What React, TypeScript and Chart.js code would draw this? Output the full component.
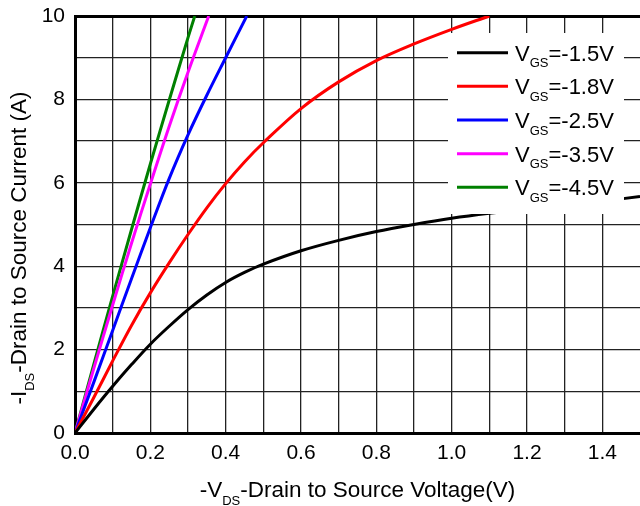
import React, { useEffect, useRef } from 'react';
import { Chart, registerables } from 'chart.js';

Chart.register(...registerables);

// ---- data ----
const vgsLabels = ['-1.5V', '-1.8V', '-2.5V', '-3.5V', '-4.5V'];
const seriesColors = ['#000000', '#ff0000', '#0000ff', '#ff00ff', '#008000'];

const vdsA = [0, 0.05, 0.1, 0.15, 0.2, 0.25, 0.3, 0.35, 0.4, 0.45, 0.5, 0.6, 0.7, 0.8, 0.9, 1.0, 1.1, 1.2, 1.3, 1.4, 1.5];
const idsA = [0, 0.57, 1.12, 1.64, 2.13, 2.56, 2.96, 3.31, 3.61, 3.85, 4.05, 4.37, 4.62, 4.83, 5.0, 5.15, 5.27, 5.37, 5.46, 5.56, 5.67];

const vdsB = [0, 0.05, 0.1, 0.15, 0.2, 0.25, 0.3, 0.35, 0.4, 0.45, 0.5, 0.6, 0.7, 0.8, 0.9, 1.0, 1.1];
const idsB = [0, 0.85, 1.73, 2.58, 3.36, 4.08, 4.76, 5.4, 5.98, 6.5, 6.96, 7.78, 8.42, 8.93, 9.33, 9.68, 10.0];

const vdsC = [0, 0.05, 0.1, 0.15, 0.2, 0.25, 0.3, 0.35, 0.4, 0.456];
const idsC = [0, 1.22, 2.46, 3.7, 4.92, 6.1, 7.15, 8.1, 9.0, 10.0];

const vdsD = [0, 0.05, 0.1, 0.15, 0.2, 0.25, 0.3, 0.355];
const idsD = [0, 1.55, 3.07, 4.55, 5.97, 7.35, 8.65, 10.0];

const vdsE = [0, 0.05, 0.1, 0.15, 0.2, 0.25, 0.3, 0.318];
const idsE = [0, 1.65, 3.28, 4.88, 6.45, 7.98, 9.48, 10.0];

const xTickLabels = ['0.0', '0.2', '0.4', '0.6', '0.8', '1.0', '1.2', '1.4'];
const yTickLabels = ['0', '2', '4', '6', '8', '10'];

const seriesX = [vdsA, vdsB, vdsC, vdsD, vdsE];
const seriesY = [idsA, idsB, idsC, idsD, idsE];

const FONT = '"Liberation Sans", Arial, Helvetica, sans-serif';

type Part = { t: string; sub?: boolean };

function drawParts(
  ctx: CanvasRenderingContext2D,
  x: number,
  y: number,
  parts: Part[],
  size: number,
  subSize: number,
  subDrop: number,
  align: 'left' | 'center'
) {
  ctx.textAlign = 'left';
  ctx.textBaseline = 'alphabetic';
  ctx.fillStyle = '#000';
  const widths = parts.map((p) => {
    ctx.font = `${p.sub ? subSize : size}px ${FONT}`;
    return ctx.measureText(p.t).width;
  });
  const total = widths.reduce((a, b) => a + b, 0);
  let cx = align === 'center' ? x - total / 2 : x;
  parts.forEach((p, i) => {
    ctx.font = `${p.sub ? subSize : size}px ${FONT}`;
    ctx.fillText(p.t, cx, p.sub ? y + subDrop : y);
    cx += widths[i];
  });
}

const overlayPlugin = {
  id: 'overlay',
  afterDatasetsDraw(chart: any) {
    const ctx: CanvasRenderingContext2D = chart.ctx;
    const a = chart.chartArea;
    ctx.save();
    // legend box
    const bx = a.left + 373;
    const by = a.top + 17;
    const bw = 176;
    const bh = 181;
    ctx.fillStyle = '#ffffff';
    ctx.fillRect(bx, by, bw, bh);
    vgsLabels.forEach((lab, i) => {
      const cy = by + 19.7 + i * 33.65;
      ctx.strokeStyle = seriesColors[i];
      ctx.lineWidth = 3;
      ctx.beginPath();
      ctx.moveTo(bx + 9, cy);
      ctx.lineTo(bx + 60, cy);
      ctx.stroke();
      drawParts(ctx, bx + 67, cy + 8, [{ t: 'V' }, { t: 'GS', sub: true }, { t: '=' + lab }], 22, 13, 6.6, 'left');
    });
    ctx.restore();
  },
  afterDraw(chart: any) {
    const ctx: CanvasRenderingContext2D = chart.ctx;
    const a = chart.chartArea;
    ctx.save();
    drawParts(
      ctx,
      (a.left + a.right) / 2,
      497,
      [{ t: '-V' }, { t: 'DS', sub: true }, { t: '-Drain to Source Voltage(V)' }],
      22.5,
      13,
      7.7,
      'center'
    );
    ctx.translate(26, 248);
    ctx.rotate(-Math.PI / 2);
    drawParts(
      ctx,
      0,
      0,
      [{ t: '-I' }, { t: 'DS', sub: true }, { t: '-Drain to Source Current (A)' }],
      22.5,
      13,
      8,
      'center'
    );
    ctx.restore();
  },
};

function labelFor(list: string[], v: number) {
  const hit = list.find((s) => Math.abs(parseFloat(s) - v) < 1e-6);
  return hit === undefined ? '' : hit;
}

export default function App() {
  const ref = useRef<HTMLCanvasElement | null>(null);

  useEffect(() => {
    if (!ref.current) return;
    const datasets = seriesX.map((xs, i) => ({
      label: 'VGS=' + vgsLabels[i],
      data: xs.map((x, j) => ({ x, y: seriesY[i][j] })),
      borderColor: seriesColors[i],
      backgroundColor: seriesColors[i],
      borderWidth: 3,
      pointRadius: 0,
      fill: false,
      tension: 0.35,
    }));

    const chart = new Chart(ref.current, {
      type: 'line',
      data: { datasets },
      plugins: [overlayPlugin],
      options: {
        animation: false,
        responsive: false,
        maintainAspectRatio: false,
        layout: { padding: { left: 0, top: 16, right: 0, bottom: 0 } },
        plugins: {
          legend: { display: false },
          tooltip: { enabled: false },
          title: { display: false },
        },
        scales: {
          x: {
            type: 'linear',
            min: 0,
            max: 1.5,
            border: { display: true, color: '#000', width: 3 },
            grid: {
              drawTicks: false,
              lineWidth: 1.3,
              color: (c: any) =>
                c.tick && Math.abs(c.tick.value - 1.5) < 1e-6 ? 'rgba(0,0,0,0)' : '#222',
            },
            ticks: {
              stepSize: 0.1,
              autoSkip: false,
              maxRotation: 0,
              minRotation: 0,
              padding: 8,
              color: '#000',
              font: { family: FONT, size: 21 },
              callback: (v: any) => labelFor(xTickLabels, Number(v)),
            },
            afterFit: (s: any) => {
              s.height = 73;
              s.paddingLeft = 0;
              s.paddingRight = 0;
            },
          },
          y: {
            type: 'linear',
            min: 0,
            max: 10,
            border: { display: true, color: '#000', width: 3 },
            grid: {
              drawTicks: false,
              color: (c: any) => (c.tick && c.tick.value === 10 ? '#000' : '#222'),
              lineWidth: (c: any) => (c.tick && c.tick.value === 10 ? 3 : 1.3),
            },
            ticks: {
              stepSize: 1,
              autoSkip: false,
              padding: 10,
              color: '#000',
              font: { family: FONT, size: 21 },
              callback: (v: any) => labelFor(yTickLabels, Number(v)),
            },
            afterFit: (s: any) => {
              s.width = 75;
              s.paddingTop = 0;
              s.paddingBottom = 0;
            },
          },
        },
      },
    });
    return () => chart.destroy();
  }, []);

  return (
    <div style={{ position: 'absolute', left: 0, top: 0, width: 640, height: 506, background: '#fff' }}>
      <canvas ref={ref} width={640} height={506} style={{ display: 'block', width: 640, height: 506 }} />
    </div>
  );
}
